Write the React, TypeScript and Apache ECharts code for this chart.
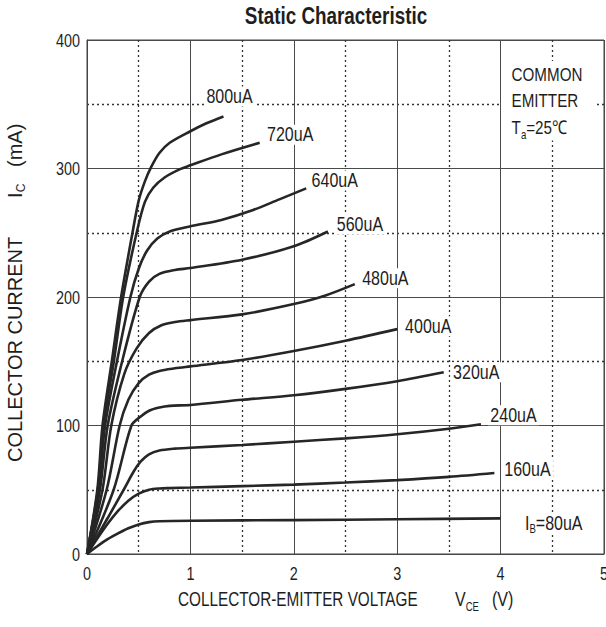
import React, { useEffect, useRef } from "react";
import * as echarts from "echarts";

const SANS = "'Liberation Sans', Arial, Helvetica, sans-serif";
const NARROW_SCALE = 0.8;

const chartTitle = "Static Characteristic";
const xAxisTitle = "COLLECTOR-EMITTER VOLTAGE";
const xAxisSymbol = ["V", "CE"];
const xAxisUnit = "(V)";
const yAxisTitle = "COLLECTOR CURRENT";
const noteLines = ["COMMON", "EMITTER"];
const noteTemp = "=25℃";

const xTicks = [0, 1, 2, 3, 4, 5];
const yTicks = [0, 100, 200, 300, 400];

// Base current of each curve (uA)
const baseCurrents = [80, 160, 240, 320, 400, 480, 560, 640, 720, 800];

// [VCE (V), IC (mA)]
const ib80: [number, number][] = [[0, 0], [0.1, 6], [0.2, 11.5], [0.3, 16], [0.4, 20], [0.5, 23], [0.6, 24.8], [0.7, 25.5], [1, 25.9], [2, 26.4], [3, 27], [4, 27.7]];
const ib160: [number, number][] = [[0, 0], [0.1, 12], [0.2, 23.5], [0.3, 33.5], [0.4, 41.5], [0.5, 47], [0.6, 50], [0.7, 51], [0.8, 51.3], [1, 51.7], [1.5, 52.8], [2, 54], [2.5, 55.6], [3, 57.5], [3.5, 60], [3.94, 63]];
const ib240: [number, number][] = [[0, 0], [0.2, 28], [0.355, 50], [0.45, 64], [0.52, 72], [0.6, 77.5], [0.7, 80.5], [0.85, 82], [1, 82.7], [1.5, 84.8], [2, 87.4], [2.5, 90], [3, 93.2], [3.5, 97.5], [3.81, 101]];
const ib320: [number, number][] = [[0, 0], [0.258, 50], [0.43, 100], [0.52, 107], [0.6, 111.5], [0.7, 114], [0.8, 115.3], [1, 116], [1.5, 120], [2, 123.5], [2.5, 128.5], [3, 134.5], [3.45, 141.5]];
const ib400: [number, number][] = [[0, 0], [0.19, 50], [0.316, 100], [0.4, 120], [0.5, 133], [0.6, 139.5], [0.7, 142.5], [0.85, 144.5], [1, 146], [1.5, 151], [2, 158], [2.5, 166], [3, 175]];
const ib480: [number, number][] = [[0, 0], [0.15, 50], [0.235, 100], [0.36, 140], [0.48, 160], [0.6, 172], [0.72, 178], [0.85, 180.5], [1, 182], [1.5, 186.5], [2, 194.5], [2.3, 201], [2.59, 210]];
const ib560: [number, number][] = [[0, 0], [0.125, 50], [0.2, 100], [0.34, 150], [0.51, 200], [0.6, 212], [0.7, 218], [0.85, 221], [1, 222.5], [1.5, 229], [2, 239.5], [2.33, 251]];
const ib640: [number, number][] = [[0, 0], [0.11, 50], [0.175, 100], [0.29, 150], [0.42, 200], [0.5, 222], [0.58, 236], [0.68, 245.5], [0.8, 251], [1, 255], [1.3, 260], [1.6, 267.5], [1.86, 276], [2.12, 284.5]];
const ib720: [number, number][] = [[0, 0], [0.105, 50], [0.16, 100], [0.26, 150], [0.35, 200], [0.48, 250], [0.56, 274], [0.64, 285], [0.75, 293], [0.9, 299.5], [1, 302.5], [1.3, 311], [1.67, 320]];
const ib800: [number, number][] = [[0, 0], [0.1, 50], [0.15, 100], [0.24, 150], [0.33, 200], [0.44, 250], [0.5, 275], [0.56, 290], [0.62, 301], [0.7, 312], [0.8, 320], [1, 329], [1.15, 335], [1.32, 340.5]];

const curves = [ib80, ib160, ib240, ib320, ib400, ib480, ib560, ib640, ib720, ib800];
// label offsets (px) from each curve's end point to the label's left / middle
const labelOffsets: [number, number][] = [[22, 4.5], [7.5, -3.5], [7, -9], [7, 0], [5.5, -3], [5, -6], [6.5, -7.5], [3, -8], [5, -8], [-19.5, -20]];

export default function App() {
  const ref = useRef<HTMLDivElement>(null);
  useEffect(() => {
    document.body.style.margin = "0";
    const chart = echarts.init(ref.current!, null, { renderer: "svg" });
    const ink = "#1e1e1e";
    const series = curves.map((data) => ({
      type: "line",
      data,
      showSymbol: false,
      symbol: "none",
      smooth: 0.3,
      lineStyle: { color: "#262626", width: 2.6 },
      z: 3,
    }));
    chart.setOption({
      animation: false,
      backgroundColor: "#fff",
      grid: { left: 87, right: 2, top: 40, bottom: 73, show: true, borderColor: "#444", borderWidth: 1, outerBoundsMode: "none" },
      xAxis: {
        type: "value",
        min: 0,
        max: 5,
        interval: 1,
        axisLine: { show: true, lineStyle: { color: "#444", width: 1 } },
        axisTick: { show: false },
        minorTick: { show: false, splitNumber: 2 },
        axisLabel: { show: false },
        splitLine: { show: true, lineStyle: { color: "#4a4a4a", width: 1 } },
        minorSplitLine: { show: true, lineStyle: { color: "#333", width: 1.3, type: [2, 3] } },
      },
      yAxis: {
        type: "value",
        min: 0,
        max: 400,
        interval: 100,
        axisLine: { show: true, lineStyle: { color: "#444", width: 1 } },
        axisTick: { show: false },
        minorTick: { show: false, splitNumber: 2 },
        axisLabel: { show: false },
        splitLine: { show: true, lineStyle: { color: "#4a4a4a", width: 1 } },
        minorSplitLine: { show: true, lineStyle: { color: "#333", width: 1.3, type: [2, 3] } },
      },
      series,
    });

    const toPx = (pt: [number, number]) => chart.convertToPixel({ gridIndex: 0 }, pt) as number[];
    const graphics: any[] = [];
    const narrowText = (x: number, y: number, style: any, scaleX = NARROW_SCALE) => ({
      type: "text",
      x,
      y,
      scaleX,
      z: 100,
      style: { fontFamily: SANS, fill: ink, ...style },
    });
    const subRich = (size: number, lh: number, drop: number) => ({
      m: { fontFamily: SANS, fontSize: size, lineHeight: lh, fill: ink },
      s: { fontFamily: SANS, fontSize: 12, lineHeight: lh, padding: [drop, 0, 0, 0], fill: ink },
    });

    // title
    graphics.push(
      narrowText(336, 16, { text: chartTitle, fontWeight: "bold", fontSize: 23, align: "center", verticalAlign: "middle" }, 0.82)
    );

    // tick labels
    xTicks.forEach((v) => {
      const [px, py] = toPx([v, 0]);
      graphics.push(narrowText(px, py + 19.5, { text: String(v), fontSize: 18, align: "center", verticalAlign: "middle" }));
    });
    yTicks.forEach((v) => {
      const [px, py] = toPx([0, v]);
      graphics.push(narrowText(px - 7, py, { text: String(v), fontSize: 18, align: "right", verticalAlign: "middle" }));
    });

    // curve labels
    curves.forEach((data, i) => {
      const [px, py] = toPx(data[data.length - 1]);
      const [dx, dy] = labelOffsets[i];
      const text = i === 0 ? `{m|I}{s|B}{m|=${baseCurrents[i]}uA}` : `{m|${baseCurrents[i]}uA}`;
      graphics.push(
        narrowText(px + dx, py + dy, {
          text,
          align: "left",
          verticalAlign: "middle",
          backgroundColor: "#fff",
          padding: [0, 3],
          rich: subRich(20, 20, 12),
        })
      );
    });

    // x axis title
    graphics.push(narrowText(178, 599.5, { text: xAxisTitle, fontSize: 20, align: "left", verticalAlign: "middle" }, 0.765));
    graphics.push(
      narrowText(455, 599.5, {
        text: `{m|${xAxisSymbol[0]}}{s|${xAxisSymbol[1]}}`,
        align: "left",
        verticalAlign: "middle",
        rich: subRich(20, 20, 14),
      })
    );
    graphics.push(narrowText(492, 599.5, { text: xAxisUnit, fontSize: 20, align: "left", verticalAlign: "middle" }));

    // y axis title (rotated)
    graphics.push({
      type: "text",
      x: 15,
      y: 462,
      rotation: Math.PI / 2,
      z: 100,
      style: {
        text: `{m|${yAxisTitle}}       {m|I}{s|C}   {m|(mA)}`,
        fontFamily: SANS,
        fontSize: 20,
        fill: ink,
        align: "left",
        verticalAlign: "middle",
        rich: subRich(20, 20, 11),
      },
    });

    // note box
    graphics.push(
      narrowText(502, 61, {
        text: `{m|${noteLines[0]}}\n{m|${noteLines[1]}}\n{m|T}{s|a}{m|${noteTemp}}`,
        align: "left",
        verticalAlign: "top",
        fontSize: 19,
        backgroundColor: "#fff",
        padding: [0, 18, 0, 12],
        rich: subRich(19, 26.5, 14),
      })
    );

    chart.setOption({ graphic: graphics });
    return () => chart.dispose();
  }, []);
  return <div ref={ref} style={{ width: 606, height: 627 }} />;
}
